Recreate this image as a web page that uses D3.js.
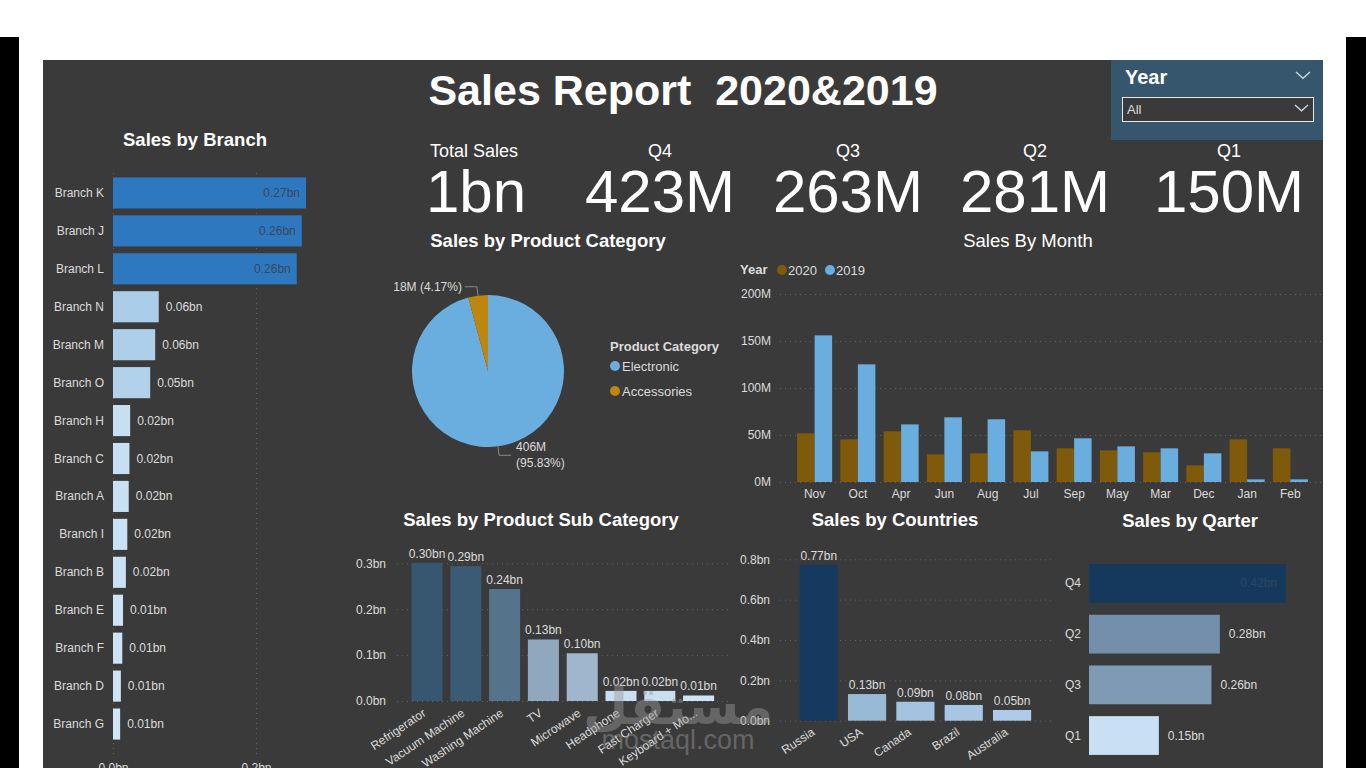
<!DOCTYPE html>
<html>
<head>
<meta charset="utf-8">
<script src="https://cdn.jsdelivr.net/npm/d3@7"></script>
<style>
  body { margin: 0; background: #fff; }
  svg { display: block; font-family: "Liberation Sans", Arial, sans-serif; }
</style>
</head>
<body>
<div id="dash"></div>
<script>
// ---- data ----
var kpiLabels = ["Total Sales", "Q4", "Q3", "Q2", "Q1"];
var kpiValues = ["1bn", "423M", "263M", "281M", "150M"];

var branches = ["Branch K", "Branch J", "Branch L", "Branch N", "Branch M", "Branch O", "Branch H",
  "Branch C", "Branch A", "Branch I", "Branch B", "Branch E", "Branch F", "Branch D", "Branch G"];
var branchSales = [0.270, 0.264, 0.257, 0.064, 0.059, 0.052, 0.024, 0.023, 0.022, 0.020, 0.018,
  0.014, 0.013, 0.011, 0.010];

var categories = ["Electronic", "Accessories"];
var categorySales = [406.3, 17.67];   // M

var months = ["Nov", "Oct", "Apr", "Jun", "Aug", "Jul", "Sep", "May", "Mar", "Dec", "Jan", "Feb"];
var years = ["2020", "2019"];
var sales2020 = [51.8, 45.4, 53.9, 29.4, 30.5, 55.0, 35.8, 33.7, 31.6, 17.7, 45.4, 35.8];
var sales2019 = [156.0, 125.2, 61.3, 68.8, 66.7, 32.6, 46.5, 37.9, 35.8, 30.5, 2.8, 2.8];

var subCategories = ["Refrigerator", "Vacuum Machine", "Washing Machine", "TV", "Microwave",
  "Headphone", "Fast Charger", "Keyboard + Mo..."];
var subSales = [0.301, 0.294, 0.244, 0.134, 0.104, 0.022, 0.022, 0.012];

var countries = ["Russia", "USA", "Canada", "Brazil", "Australia"];
var countrySales = [0.773, 0.132, 0.094, 0.078, 0.053];

var quarters = ["Q4", "Q2", "Q3", "Q1"];
var quarterSales = [0.423, 0.281, 0.263, 0.150];

// ---- page ----
var svg = d3.select("#dash").append("svg")
  .attr("width", 1366)
  .attr("height", 768);

svg.append("rect").attr("x", 0).attr("y", 37).attr("width", 19).attr("height", 731).attr("fill", "#000");
svg.append("rect").attr("x", 1346).attr("y", 37).attr("width", 20).attr("height", 731).attr("fill", "#000");
svg.append("rect").attr("x", 43).attr("y", 60).attr("width", 1280).attr("height", 708).attr("fill", "#3a3a3a");

var textCol = "#dcdcdc";
var gridCol = "#626262";

function title(x, y, txt, bold) {
  svg.append("text")
    .attr("x", x).attr("y", y)
    .attr("text-anchor", "middle")
    .attr("fill", "#fff")
    .style("font-size", "18.5px")
    .style("font-weight", bold === false ? "normal" : "bold")
    .text(txt);
}

// main title
svg.append("text")
  .attr("x", 683).attr("y", 105)
  .attr("text-anchor", "middle")
  .attr("fill", "#fff")
  .style("font-size", "43px")
  .style("font-weight", "bold")
  .style("white-space", "pre")
  .text("Sales Report  2020&2019");

// year slicer
svg.append("rect").attr("x", 1111).attr("y", 60).attr("width", 212).attr("height", 80).attr("fill", "#36566e");
svg.append("text").attr("x", 1125).attr("y", 84).attr("fill", "#fff")
  .style("font-size", "20px").style("font-weight", "bold").text("Year");
svg.append("rect").attr("x", 1122.5).attr("y", 97.5).attr("width", 191).attr("height", 24)
  .attr("fill", "#3a3a3a").attr("stroke", "#e8e8e8").attr("stroke-width", 1);
svg.append("text").attr("x", 1127).attr("y", 114).attr("fill", "#ddd").style("font-size", "13px").text("All");
[[1296, 72, 1310], [1295, 105, 1308]].forEach(function(c) {
  var w = (c[2] - c[0]) / 2;
  svg.append("path")
    .attr("d", "M" + c[0] + "," + c[1] + "L" + (c[0] + w) + "," + (c[1] + w * 0.9) + "L" + c[2] + "," + c[1])
    .attr("fill", "none").attr("stroke", "#cfd8df").attr("stroke-width", 1.3);
});

// KPI cards
var kpiX = [430, 660, 848, 1035, 1229];
kpiLabels.forEach(function(l, i) {
  var anchor = i === 0 ? "start" : "middle";
  svg.append("text").attr("x", kpiX[i]).attr("y", 157).attr("text-anchor", anchor)
    .attr("fill", "#fff").style("font-size", "18px").text(l);
  svg.append("text").attr("x", i === 0 ? kpiX[i] - 4 : kpiX[i]).attr("y", 212).attr("text-anchor", anchor)
    .attr("fill", "#fff").style("font-size", "60px").text(kpiValues[i]);
});

// ---- Sales by Branch ----
title(195, 146, "Sales by Branch");
var bx = d3.scaleLinear().domain([0, 0.2]).range([113, 256]);
var by = d3.scaleBand().domain(branches).range([174, 743]).paddingInner(0.18).paddingOuter(0.09);
var branchLight = d3.scaleLinear().domain([0.01, 0.064]).range(["#d0e5f7", "#aacde9"]).clamp(true);

svg.append("g")
  .attr("transform", "translate(0,754)")
  .call(d3.axisBottom(bx).tickValues([0, 0.2]).tickFormat(function(d) { return d.toFixed(1) + "bn"; })
    .tickSizeInner(-582).tickSizeOuter(0).tickPadding(9))
  .call(function(g) {
    g.select(".domain").remove();
    g.selectAll("line").attr("stroke", gridCol).attr("stroke-dasharray", "1,4");
    g.selectAll("text").attr("fill", textCol).style("font-size", "12px");
  });

var bg = svg.append("g");
bg.selectAll("rect").data(branches).enter().append("rect")
  .attr("x", bx(0))
  .attr("y", function(d) { return by(d); })
  .attr("width", function(d, i) { return bx(branchSales[i]) - bx(0); })
  .attr("height", by.bandwidth())
  .attr("fill", function(d, i) { return branchSales[i] > 0.2 ? "#2e78c0" : branchLight(branchSales[i]); });
bg.selectAll(".lab").data(branches).enter().append("text")
  .attr("x", 104)
  .attr("y", function(d) { return by(d) + by.bandwidth() / 2 + 4; })
  .attr("text-anchor", "end").attr("fill", textCol).style("font-size", "12px")
  .text(function(d) { return d; });
bg.selectAll(".val").data(branches).enter().append("text")
  .attr("x", function(d, i) { var v = branchSales[i]; return v > 0.2 ? bx(v) - 6 : bx(v) + 7; })
  .attr("y", function(d) { return by(d) + by.bandwidth() / 2 + 4; })
  .attr("text-anchor", function(d, i) { return branchSales[i] > 0.2 ? "end" : "start"; })
  .attr("fill", function(d, i) { return branchSales[i] > 0.2 ? "#3b4656" : textCol; })
  .style("font-size", "12px")
  .text(function(d, i) { return branchSales[i].toFixed(2) + "bn"; });

// ---- Sales by Product Category (pie) ----
title(548, 247, "Sales by Product Category");
var pieColor = d3.scaleOrdinal().domain(categories).range(["#6aaee0", "#bf860f"]);
var pie = d3.pie().sort(null).value(function(d) { return d.v; });
var arcs = pie(categories.map(function(c, i) { return { c: c, v: categorySales[i] }; }));
var total = d3.sum(categorySales);
var r = 76;
var pg = svg.append("g").attr("transform", "translate(488,371)");
pg.selectAll("path").data(arcs).enter().append("path")
  .attr("d", d3.arc().innerRadius(0).outerRadius(r))
  .attr("fill", function(d) { return pieColor(d.data.c); });

arcs.forEach(function(a) {
  var mid = (a.startAngle + a.endAngle) / 2;
  var p0 = [Math.sin(mid) * r, -Math.cos(mid) * r];
  var p1 = [Math.sin(mid) * (r + 9), -Math.cos(mid) * (r + 9)];
  var right = Math.sin(mid) > 0;
  var p2 = [p1[0] + (right ? 12 : -12), p1[1]];
  pg.append("polyline").attr("points", [p0, p1, p2].join(" "))
    .attr("fill", "none").attr("stroke", "#8a8a8a").attr("stroke-width", 1);
  var lbl = Math.round(a.data.v) + "M";
  var pct = "(" + (a.data.v / total * 100).toFixed(2) + "%)";
  var t = pg.append("text").attr("fill", textCol).style("font-size", "12px")
    .attr("text-anchor", right ? "start" : "end");
  if (right) {
    t.append("tspan").attr("x", p2[0] + 5).attr("y", p2[1] - 4).text(lbl);
    t.append("tspan").attr("x", p2[0] + 5).attr("y", p2[1] + 12).text(pct);
  } else {
    t.attr("x", p2[0] - 3).attr("y", p2[1] + 4).text(lbl + " " + pct);
  }
});

svg.append("text").attr("x", 610).attr("y", 351).attr("fill", textCol)
  .style("font-size", "13px").style("font-weight", "bold").text("Product Category");
categories.forEach(function(c, i) {
  svg.append("circle").attr("cx", 615).attr("cy", 366 + i * 25).attr("r", 5).attr("fill", pieColor(c));
  svg.append("text").attr("x", 622).attr("y", 371 + i * 25).attr("fill", textCol)
    .style("font-size", "13px").text(c);
});

// ---- Sales By Month ----
title(1028, 247, "Sales By Month", false);
var yearColor = d3.scaleOrdinal().domain(years).range(["#7f5a0b", "#6aaee0"]);
svg.append("text").attr("x", 740).attr("y", 274).attr("fill", textCol)
  .style("font-size", "13px").style("font-weight", "bold").text("Year");
years.forEach(function(yv, i) {
  svg.append("circle").attr("cx", 782 + i * 48).attr("cy", 270).attr("r", 5).attr("fill", yearColor(yv));
  svg.append("text").attr("x", 788 + i * 48).attr("y", 275).attr("fill", textCol)
    .style("font-size", "13px").text(yv);
});

var mx = d3.scaleBand().domain(months).range([793, 1312]).paddingInner(0.19).paddingOuter(0.095);
var mx1 = d3.scaleBand().domain(years).range([0, mx.bandwidth()]);
var my = d3.scaleLinear().domain([0, 200]).range([482, 294]);

svg.append("g")
  .attr("transform", "translate(780,0)")
  .call(d3.axisLeft(my).tickValues([0, 50, 100, 150, 200]).tickFormat(function(d) { return d + "M"; })
    .tickSizeInner(-542).tickSizeOuter(0).tickPadding(9))
  .call(function(g) {
    g.select(".domain").remove();
    g.selectAll("line").attr("stroke", gridCol).attr("stroke-dasharray", "1,4");
    g.selectAll("text").attr("fill", textCol).style("font-size", "12px");
  });

var monthRows = months.map(function(m, i) { return { m: m, vals: [sales2020[i], sales2019[i]] }; });
var mg = svg.append("g").selectAll("g").data(monthRows).enter().append("g")
  .attr("transform", function(d) { return "translate(" + mx(d.m) + ",0)"; });
mg.selectAll("rect").data(function(d) { return d.vals.map(function(v, j) { return { y: years[j], v: v }; }); })
  .enter().append("rect")
  .attr("x", function(d) { return mx1(d.y); })
  .attr("y", function(d) { return my(d.v); })
  .attr("width", mx1.bandwidth())
  .attr("height", function(d) { return my(0) - my(d.v); })
  .attr("fill", function(d) { return yearColor(d.y); });
svg.append("g")
  .attr("transform", "translate(0,482)")
  .call(d3.axisBottom(mx).tickSize(0).tickPadding(7))
  .call(function(g) {
    g.select(".domain").remove();
    g.selectAll("text").attr("fill", textCol).style("font-size", "12px");
  });

// ---- Sales by Product Sub Category ----
title(541, 526, "Sales by Product Sub Category");
var sx = d3.scaleBand().domain(subCategories).range([407.6, 718]).padding(0.2).paddingOuter(0.1);
var sy = d3.scaleLinear().domain([0, 0.3]).range([701, 563.3]);
var subColor = d3.scaleLinear().domain([d3.min(subSales), d3.max(subSales)]).range(["#cfe3f6", "#375771"]);

svg.append("g")
  .attr("transform", "translate(397,0)")
  .call(d3.axisLeft(sy).tickValues([0, 0.1, 0.2, 0.3]).tickFormat(function(d) { return d.toFixed(1) + "bn"; })
    .tickSizeInner(-331).tickSizeOuter(0).tickPadding(11))
  .call(function(g) {
    g.select(".domain").remove();
    g.selectAll("line").attr("stroke", gridCol).attr("stroke-dasharray", "1,4");
    g.selectAll("text").attr("fill", textCol).style("font-size", "12px");
  });

var sg = svg.append("g");
sg.selectAll("rect").data(subCategories).enter().append("rect")
  .attr("x", function(d) { return sx(d); })
  .attr("y", function(d, i) { return sy(subSales[i]); })
  .attr("width", sx.bandwidth())
  .attr("height", function(d, i) { return sy(0) - sy(subSales[i]); })
  .attr("fill", function(d, i) { return subColor(subSales[i]); });
sg.selectAll(".val").data(subCategories).enter().append("text")
  .attr("x", function(d) { return sx(d) + sx.bandwidth() / 2; })
  .attr("y", function(d, i) { return sy(subSales[i]) - 5; })
  .attr("text-anchor", "middle").attr("fill", textCol).style("font-size", "12px")
  .text(function(d, i) { return subSales[i].toFixed(2) + "bn"; });
sg.selectAll(".lab").data(subCategories).enter().append("text")
  .attr("transform", function(d) { return "translate(" + (sx(d) + sx.bandwidth() / 2 - 5) + ",708) rotate(-34)"; })
  .attr("dy", "0.7em")
  .attr("text-anchor", "end").attr("fill", textCol).style("font-size", "12px")
  .text(function(d) { return d; });

// ---- Sales by Countries ----
title(895, 526, "Sales by Countries");
var cx = d3.scaleBand().domain(countries).range([794.8, 1036]).paddingInner(0.21).paddingOuter(0.1);
var cy = d3.scaleLinear().domain([0, 0.8]).range([720.7, 559.3]);
var countryLight = d3.scaleLinear().domain([0.05, 0.135]).range(["#aecdea", "#98b9d6"]).clamp(true);

svg.append("g")
  .attr("transform", "translate(780,0)")
  .call(d3.axisLeft(cy).tickValues([0, 0.2, 0.4, 0.6, 0.8]).tickFormat(function(d) { return d.toFixed(1) + "bn"; })
    .tickSizeInner(-272).tickSizeOuter(0).tickPadding(10))
  .call(function(g) {
    g.select(".domain").remove();
    g.selectAll("line").attr("stroke", gridCol).attr("stroke-dasharray", "1,4");
    g.selectAll("text").attr("fill", textCol).style("font-size", "12px");
  });

var cg = svg.append("g");
cg.selectAll("rect").data(countries).enter().append("rect")
  .attr("x", function(d) { return cx(d); })
  .attr("y", function(d, i) { return cy(countrySales[i]); })
  .attr("width", cx.bandwidth())
  .attr("height", function(d, i) { return cy(0) - cy(countrySales[i]); })
  .attr("fill", function(d, i) { return countrySales[i] > 0.5 ? "#163a5f" : countryLight(countrySales[i]); });
cg.selectAll(".val").data(countries).enter().append("text")
  .attr("x", function(d) { return cx(d) + cx.bandwidth() / 2; })
  .attr("y", function(d, i) { return cy(countrySales[i]) - 5; })
  .attr("text-anchor", "middle").attr("fill", textCol).style("font-size", "12px")
  .text(function(d, i) { return countrySales[i].toFixed(2) + "bn"; });
cg.selectAll(".lab").data(countries).enter().append("text")
  .attr("transform", function(d) { return "translate(" + (cx(d) + cx.bandwidth() / 2 - 8) + ",727) rotate(-34)"; })
  .attr("dy", "0.7em")
  .attr("text-anchor", "end").attr("fill", textCol).style("font-size", "12px")
  .text(function(d) { return d; });

// ---- Sales by Qarter ----
title(1190, 527, "Sales by Qarter");
var qx = d3.scaleLinear().domain([0, 0.423]).range([1089, 1286]);
var qy = d3.scaleBand().domain(quarters).range([558, 761]).paddingInner(0.235).paddingOuter(0.12);
var qColor = d3.scaleLinear().domain([0.15, 0.423]).range(["#c9dff3", "#15395d"]);

var qg = svg.append("g");
qg.selectAll("rect").data(quarters).enter().append("rect")
  .attr("x", qx(0))
  .attr("y", function(d) { return qy(d); })
  .attr("width", function(d, i) { return qx(quarterSales[i]) - qx(0); })
  .attr("height", qy.bandwidth())
  .attr("fill", function(d, i) { return qColor(quarterSales[i]); });
qg.selectAll(".lab").data(quarters).enter().append("text")
  .attr("x", 1081)
  .attr("y", function(d) { return qy(d) + qy.bandwidth() / 2 + 4; })
  .attr("text-anchor", "end").attr("fill", textCol).style("font-size", "12px")
  .text(function(d) { return d; });
qg.selectAll(".val").data(quarters).enter().append("text")
  .attr("x", function(d, i) { var v = quarterSales[i]; return v > 0.4 ? qx(v) - 9 : qx(v) + 9; })
  .attr("y", function(d) { return qy(d) + qy.bandwidth() / 2 + 4; })
  .attr("text-anchor", function(d, i) { return quarterSales[i] > 0.4 ? "end" : "start"; })
  .attr("fill", function(d, i) { return quarterSales[i] > 0.4 ? "#2c4662" : textCol; })
  .style("font-size", "12px")
  .text(function(d, i) { return quarterSales[i].toFixed(2) + "bn"; });

// watermark
var wm = svg.append("g").attr("opacity", 0.45).attr("fill", "#9a9a9a");
wm.append("text").attr("x", 678).attr("y", 724).attr("text-anchor", "middle")
  .style("font-family", "'DejaVu Sans', sans-serif").style("font-size", "52px").style("font-weight", "bold")
  .text("مستقل");
wm.append("text").attr("x", 678).attr("y", 749).attr("text-anchor", "middle")
  .style("font-size", "27px").text("mostaql.com");
</script>
</body>
</html>
